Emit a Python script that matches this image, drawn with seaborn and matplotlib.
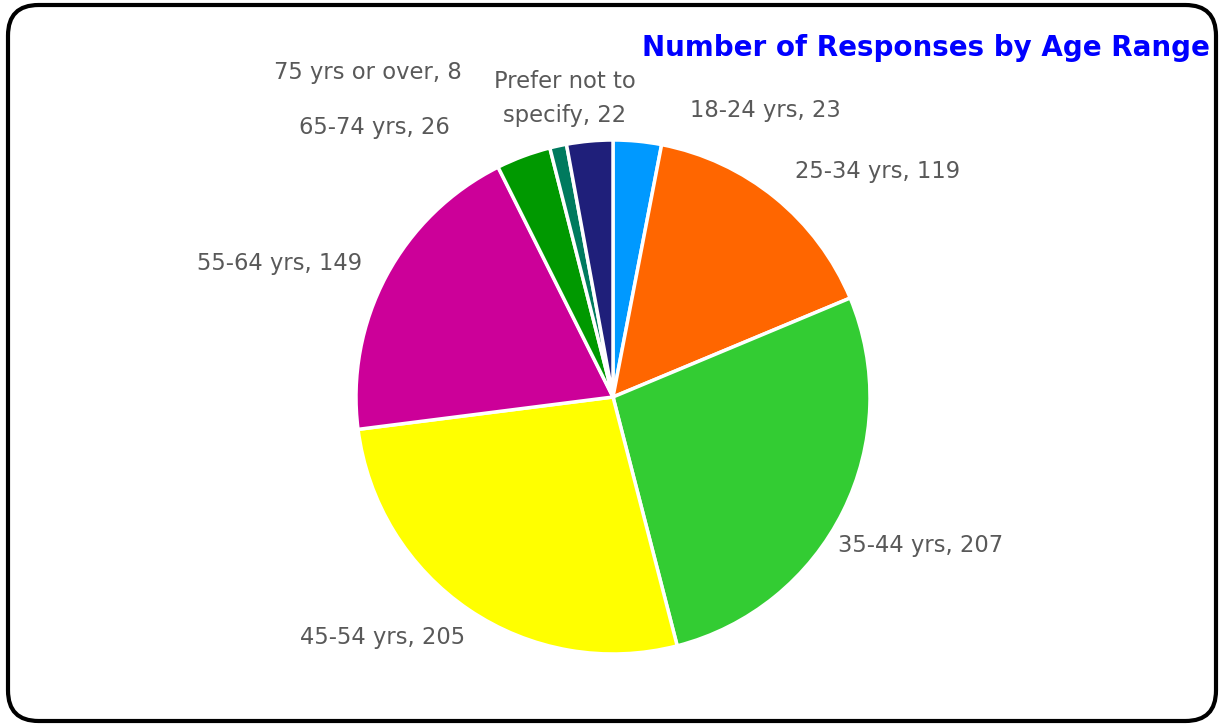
import matplotlib
matplotlib.use("Agg")
import matplotlib.pyplot as plt
from matplotlib.patches import FancyBboxPatch
import seaborn as sns

categories = ["18-24 yrs", "25-34 yrs", "35-44 yrs", "45-54 yrs",
              "55-64 yrs", "65-74 yrs", "75 yrs or over", "Prefer not to\nspecify"]
counts = [23, 119, 207, 205, 149, 26, 8, 22]
colors = ["#0099FF", "#FF6600", "#33CC33", "#FFFF00",
          "#CC0099", "#009900", "#007A5E", "#1F1F7A"]
title = "Number of Responses by Age Range"

# label anchor positions (in pie-radius units) and alignment
label_pos = [(0.30, 1.113), (0.708, 0.879), (0.875, -0.576), (-0.576, -0.934),
             (-0.977, 0.521), (-0.634, 1.047), (-0.588, 1.261), (-0.187, 1.16)]
label_ha = ["left", "left", "left", "right", "right", "right", "right", "center"]

sns.set_theme(style="white")
plt.rcParams["font.family"] = ["DejaVu Sans"]

W, H = 1222, 727
fig = plt.figure(figsize=(W / 100, H / 100), dpi=100)
fig.patch.set_facecolor("white")

R = 257
cx, cy = 613, H - 397
k = 2.0
ax = fig.add_axes([(cx - k * R) / W, (cy - k * R) / H, 2 * k * R / W, 2 * k * R / H])
ax.pie(counts, colors=colors, startangle=90, counterclock=False, radius=1,
       wedgeprops=dict(edgecolor="white", linewidth=2.5))
ax.set_xlim(-k, k)
ax.set_ylim(-k, k)
ax.set_aspect("equal")
ax.axis("off")

for cat, n, (x, y), ha in zip(categories, counts, label_pos, label_ha):
    ax.text(x, y, f"{cat}, {n}", ha=ha, va="center", fontsize=16.3,
            color="#595959", linespacing=1.6)

fig.text(1210 / W, 1 - 48 / H, title, ha="right", va="center",
         fontsize=20, fontweight="bold", color="#0000FF")

# rounded frame
frame = FancyBboxPatch((8 / W, 6 / H), 1208 / W, 716 / H,
                       boxstyle="round,pad=0,rounding_size=0.025",
                       transform=fig.transFigure, facecolor="none",
                       edgecolor="black", linewidth=3, mutation_aspect=W / H,
                       zorder=10)
fig.patches.append(frame)

fig.savefig("out.png", dpi=100, facecolor="white")
